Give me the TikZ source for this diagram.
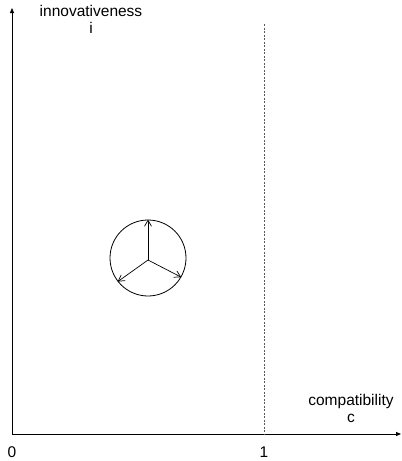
\documentclass[tikz,border=0pt]{standalone}
\usepackage{fontspec}
\setmainfont{Liberation Sans}
\usetikzlibrary{arrows.meta}
\begin{document}
\begin{tikzpicture}[x=1pt,y=-1pt,
  lbl/.style={font=\fontsize{15.5}{17}\selectfont, inner sep=0pt, align=center},
  axis/.style={line width=0.8pt, -{Triangle[length=5pt,width=4pt]}},
  vec/.style={line width=0.7pt, -{Straight Barb[length=6pt,width=7pt]}}]
\useasboundingbox (0,0) rectangle (402,461);
\coordinate (O) at (12,434);
\coordinate (ytop) at (12,8);
\coordinate (xend) at (401,434);
\draw[axis] (O) -- (ytop);
\draw[axis] (O) -- (xend);
\coordinate (d1) at (264,24);
\coordinate (d0) at (264,434);
\draw[dashed, dash pattern=on 2pt off 1.5pt, line width=0.6pt, gray!70!black] (d1) -- (d0);
\node[lbl] (ilab) at (91,19) {innovativeness\\i};
\node[lbl] (clab) at (351,408) {compatibility\\c};
\node[lbl] (zero) at (12,452) {0};
\node[lbl] (one) at (264,452) {1};
\node[circle, draw, line width=0.8pt, minimum size=76pt, inner sep=0pt] (circ) at (148,258) {};
\coordinate (ctr) at (148,260);
\draw[vec] (ctr) -- (circ.90);
\draw[vec] (ctr) -- (circ.218);
\draw[vec] (ctr) -- (circ.330);
\end{tikzpicture}
\end{document}
